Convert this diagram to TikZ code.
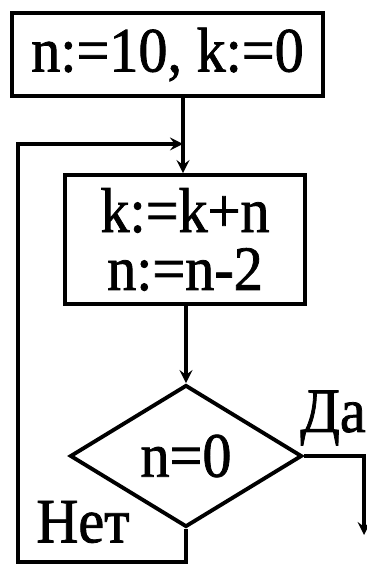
\documentclass[tikz,border=0pt]{standalone}
\usepackage{fontspec}
\setmainfont{Liberation Serif}[FakeStretch=0.92,FakeBold=1.2]
\usetikzlibrary{shapes,arrows,positioning,calc}

\begin{document}
\begin{tikzpicture}[x=0.02cm,y=0.02cm,
  blk/.style={draw,line width=2.2pt,inner sep=0pt,align=center,
              font=\fontsize{36}{33}\selectfont},
  cond/.style={draw,diamond,line width=2.2pt,inner sep=0pt,
               minimum width=4.64cm,minimum height=2.84cm,
               font=\fontsize{36}{33}\selectfont},
  arr/.style={->,>=stealth,line width=2.2pt},
  lin/.style={line width=2.2pt},
  lbl/.style={font=\fontsize{36}{36}\selectfont,inner sep=0pt}
]
\useasboundingbox (0,0) rectangle (367,565);

% Blocks, placed at fixed coordinates
\node[blk,minimum width=6.22cm,minimum height=1.66cm] (init) at (167.5,510.5) {n:=10, k:=0};
\node[blk,minimum width=4.8cm,minimum height=2.58cm]  (body) at (185,325.5) {k:=k+n\\n:=n-2};
\node[cond] (test) at (186,109) {n=0};
\node[lbl]  (yes)  at (333,147) {Да};
\node[lbl]  (no)   at (83,43)   {Нет};

% Corner points of the loop
\coordinate (join)    at (183,421);
\coordinate (yesend)  at (364,30);
\coordinate (loopbot) at (18,3);

% Connectors
\draw[lin] (init.south -| join) -- (join);
\draw[arr] (join) -- (join |- body.north);
\draw[arr] (test.north |- body.south) -- (test.north);
\draw[arr] (test.east) -| (yesend);
\draw[arr] (test.south) |- (loopbot) |- (join);
\end{tikzpicture}
\end{document}
